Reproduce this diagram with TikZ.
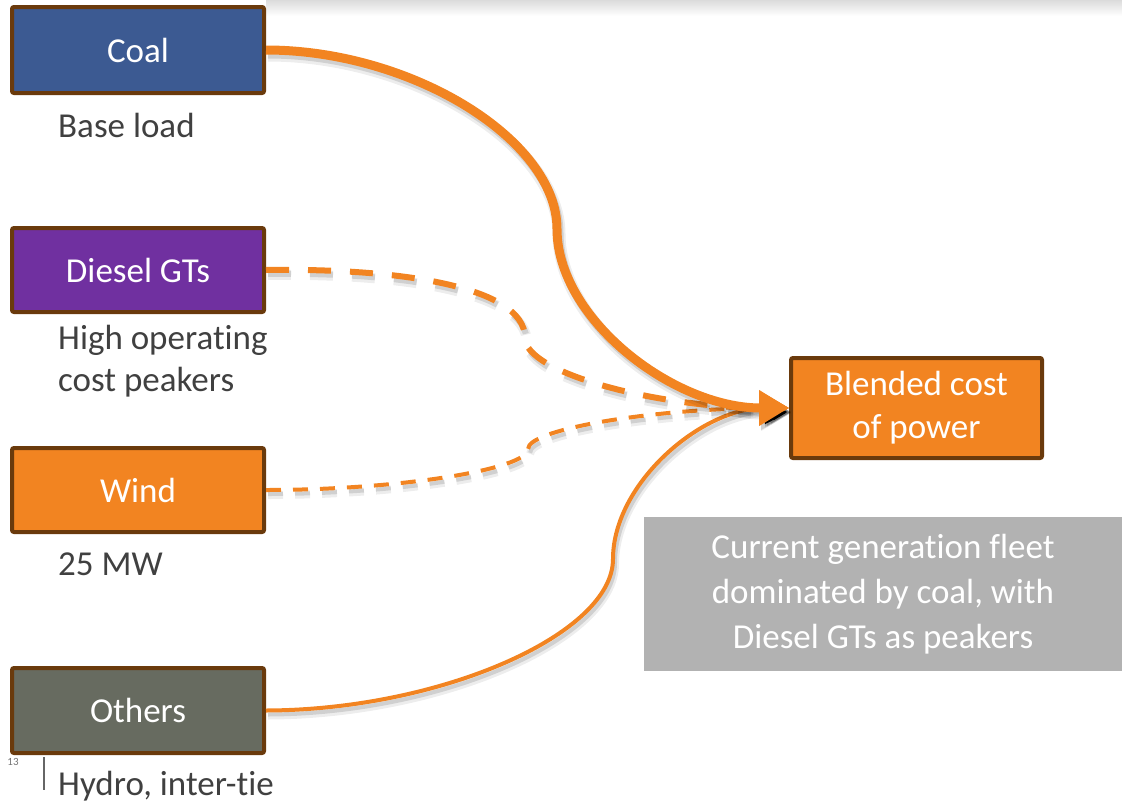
\documentclass[tikz,border=0pt]{standalone}
\usepackage{fontspec}
\setmainfont{Carlito}[Ligatures=NoCommon]
\usetikzlibrary{arrows.meta}

\definecolor{flowor}{HTML}{F28421}
\definecolor{edgebrown}{HTML}{6A3A0C}
\definecolor{coalblue}{HTML}{3C5A92}
\definecolor{dieselpurple}{HTML}{7030A0}
\definecolor{othergrey}{HTML}{676B60}
\definecolor{notegrey}{HTML}{B2B2B2}
\definecolor{labelgrey}{HTML}{404040}

\tikzset{
  srcbox/.style={draw=edgebrown, line width=4pt, rounded corners=2pt,
    minimum width=252pt, inner sep=0pt, text=white, align=center,
    font=\fontsize{35}{43}\selectfont},
  caption/.style={anchor=west, inner sep=0pt, text=labelgrey, align=left,
    font=\fontsize{35}{42}\selectfont},
  flow/.style={draw=flowor, line cap=butt},
  % soft drop shadow: two faint offset strokes under the connector
  dropshade/.style 2 args={
    preaction={draw=black, draw opacity=.07, line width=#1+4pt, #2,
      transform canvas={xshift=2pt, yshift=-5pt}},
    preaction={draw=black, draw opacity=.12, line width=#1, #2,
      transform canvas={xshift=2pt, yshift=-4pt}}},
}

\begin{document}
\begin{tikzpicture}[x=1pt, y=-1pt]
\useasboundingbox (0,0) rectangle (1122,803);

% faint header shadow along the top edge
\shade[top color=black!14, bottom color=white, draw=none] (266,0) rectangle (1122,16);

% generation sources
\node[srcbox, fill=coalblue, minimum height=86pt] (coal) at (138,50) {Coal};
\node[srcbox, fill=dieselpurple, minimum height=84pt] (diesel) at (138,270) {Diesel GTs};
\node[srcbox, fill=flowor, minimum height=84pt] (wind) at (138,490) {Wind};
\node[srcbox, fill=othergrey, minimum height=85pt] (others) at (138,710.5) {Others};

% captions under the sources
\node[caption] (capcoal) at (58,125) {Base load};
\node[caption] (capdiesel) at (58,361) {High operating\\cost peakers};
\node[caption] (capwind) at (58,564) {25 MW};
\node[caption] (capothers) at (58,786) {Hydro, inter-tie};

% target
\node[srcbox, fill=flowor, minimum width=251pt, minimum height=100pt] (blend) at (916.5,408) {Blended cost\\of power};

% note
\node[fill=notegrey, minimum width=478pt, minimum height=154pt, inner sep=0pt,
  text=white, align=center, font=\fontsize{35}{45}\selectfont] (note) at (883,594)
  {\raisebox{-2pt}{\parbox{470pt}{\centering Current generation fleet\\dominated by coal, with\\Diesel GTs as peakers}}};

% slide number and marker
\node[text=black!55, font=\fontsize{11}{12}\selectfont, inner sep=0pt] (pagenum) at (13,762) {13};
\coordinate (tickA) at (44,757);
\coordinate (tickB) at (44,790);
\draw[black!60, line width=1.5pt] (tickA) -- (tickB);

% connectors into the blended cost
\draw[flow, line width=4pt, dropshade={4pt}{solid}, -{Triangle[length=26pt,width=28pt]}]
  (others.east) .. controls (439.5,710) and (613,634.5) .. (613,559)
  .. controls (613,483.5) and (701.5,408) .. (blend.west);

\draw[flow, line width=4pt, dash pattern=on 15pt off 12pt,
  dropshade={4pt}{dash pattern=on 15pt off 12pt},
  -{Triangle[length=20pt,width=22pt]}]
  (wind.east) .. controls (397,490) and (528,469.5) .. (528,449)
  .. controls (528,428.5) and (659,408) .. (blend.west);

\draw[flow, line width=6pt, dash pattern=on 23pt off 19pt,
  dropshade={6pt}{dash pattern=on 23pt off 19pt},
  -{Triangle[length=24pt,width=26pt]}]
  (diesel.east) .. controls (395.5,268) and (525,285.5) .. (525,338)
  .. controls (525,373) and (657.5,408) .. (blend.west);

\draw[flow, line width=9pt, dropshade={9pt}{solid}, -{Triangle[length=30pt,width=34pt]}]
  (coal.east) .. controls (411,50) and (557,139.5) .. (557,229)
  .. controls (557,318.5) and (673,408) .. (blend.west);
\end{tikzpicture}
\end{document}
